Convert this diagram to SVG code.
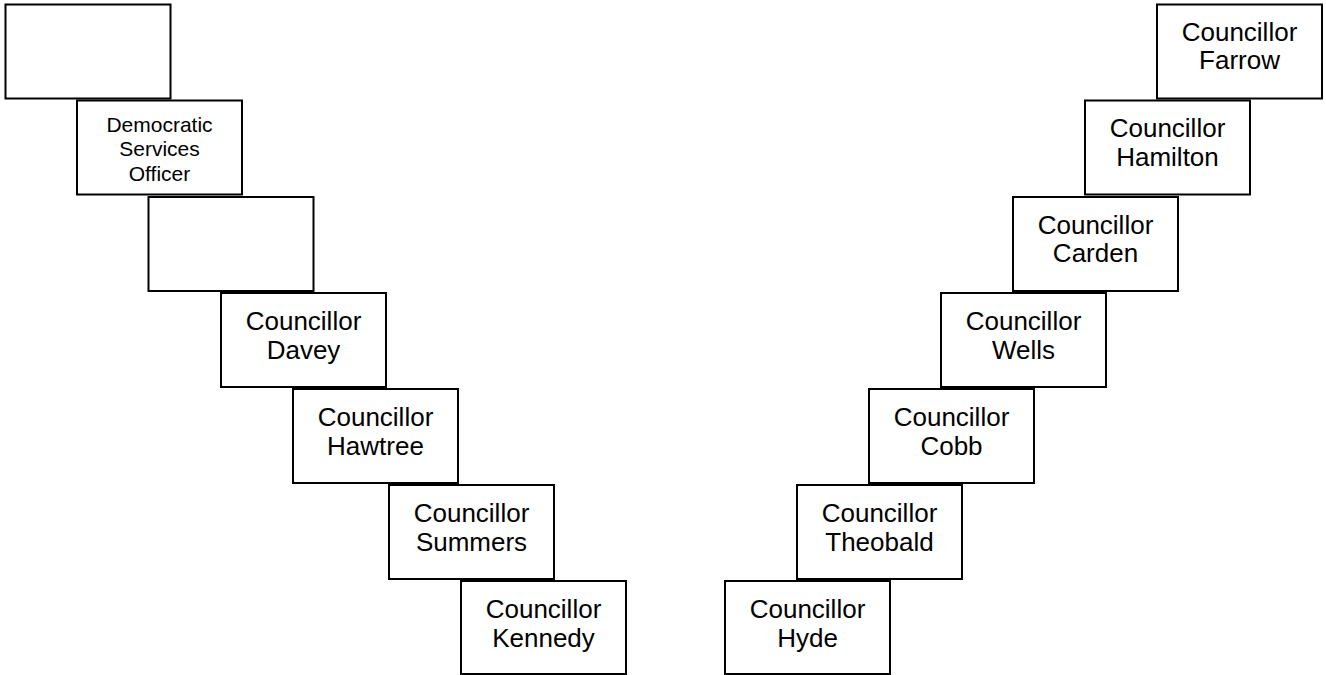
<svg xmlns="http://www.w3.org/2000/svg" width="1326" height="675" viewBox="0 0 1326 675">
<style>
.box{fill:#fff;stroke:#000;stroke-width:2}
.t{font-family:"Liberation Sans",Arial,sans-serif;font-size:26px;fill:#000;text-anchor:middle}
.s{font-family:"Liberation Sans",Arial,sans-serif;font-size:21px;fill:#000;text-anchor:middle}
</style>
<rect width="1326" height="675" fill="#fff"/>
<g id="connectors"></g>
<g id="blank1"><rect class="box" x="5.5" y="4.5" width="165" height="94"/></g>
<g id="dso"><rect class="box" x="77" y="100.5" width="165" height="94"/>
<text class="s" x="159.5" y="131.5">Democratic</text>
<text class="s" x="159.5" y="156">Services</text>
<text class="s" x="159.5" y="180.5">Officer</text></g>
<g id="blank2"><rect class="box" x="148.5" y="197" width="165" height="94"/></g>
<g id="davey"><rect class="box" x="221" y="293" width="165" height="94"/>
<text class="t" x="303.5" y="330">Councillor</text><text class="t" x="303.5" y="358.5">Davey</text></g>
<g id="hawtree"><rect class="box" x="293" y="389" width="165" height="94"/>
<text class="t" x="375.5" y="426">Councillor</text><text class="t" x="375.5" y="454.5">Hawtree</text></g>
<g id="summers"><rect class="box" x="389" y="485" width="165" height="94"/>
<text class="t" x="471.5" y="522">Councillor</text><text class="t" x="471.5" y="550.5">Summers</text></g>
<g id="kennedy"><rect class="box" x="461" y="581" width="165" height="93"/>
<text class="t" x="543.5" y="618">Councillor</text><text class="t" x="543.5" y="646.5">Kennedy</text></g>
<g id="farrow"><rect class="box" x="1157" y="4.5" width="165" height="94"/>
<text class="t" x="1239.5" y="40.5">Councillor</text><text class="t" x="1239.5" y="69">Farrow</text></g>
<g id="hamilton"><rect class="box" x="1085" y="100.5" width="165" height="94"/>
<text class="t" x="1167.5" y="137">Councillor</text><text class="t" x="1167.5" y="165.5">Hamilton</text></g>
<g id="carden"><rect class="box" x="1013" y="197" width="165" height="94"/>
<text class="t" x="1095.5" y="233.5">Councillor</text><text class="t" x="1095.5" y="262">Carden</text></g>
<g id="wells"><rect class="box" x="941" y="293" width="165" height="94"/>
<text class="t" x="1023.5" y="330">Councillor</text><text class="t" x="1023.5" y="358.5">Wells</text></g>
<g id="cobb"><rect class="box" x="869" y="389" width="165" height="94"/>
<text class="t" x="951.5" y="426">Councillor</text><text class="t" x="951.5" y="454.5">Cobb</text></g>
<g id="theobald"><rect class="box" x="797" y="485" width="165" height="94"/>
<text class="t" x="879.5" y="522">Councillor</text><text class="t" x="879.5" y="550.5">Theobald</text></g>
<g id="hyde"><rect class="box" x="725" y="581" width="165" height="93"/>
<text class="t" x="807.5" y="618">Councillor</text><text class="t" x="807.5" y="646.5">Hyde</text></g>
</svg>
